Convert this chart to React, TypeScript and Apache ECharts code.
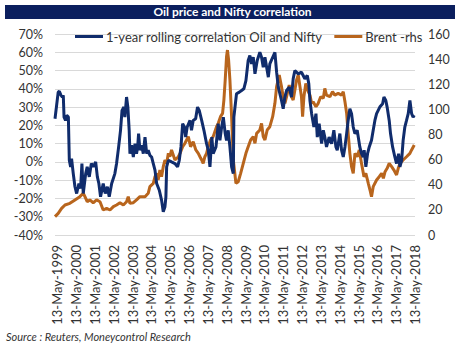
import React, { useEffect, useRef } from "react";
import * as echarts from "echarts";

// Decimal years (13-May-YYYY = YYYY + 0.36)
const corrYears = [
  1999.24, 1999.41, 1999.47, 1999.56, 1999.63, 1999.68, 1999.72, 1999.8, 1999.86, 1999.95,
  2000.0, 2000.07, 2000.12, 2000.21, 2000.3, 2000.39, 2000.51, 2000.6, 2000.67, 2000.74,
  2000.87, 2000.95, 2001.06, 2001.17, 2001.27, 2001.4, 2001.49, 2001.57, 2001.66, 2001.8,
  2001.91, 2002.02, 2002.12, 2002.25, 2002.42, 2002.51, 2002.62, 2002.72, 2002.8, 2002.9,
  2002.95, 2003.04, 2003.11, 2003.18, 2003.22, 2003.31, 2003.4, 2003.49, 2003.57, 2003.63,
  2003.68, 2003.75, 2003.84, 2003.93, 2004.02, 2004.11, 2004.19, 2004.28, 2004.37, 2004.46,
  2004.55, 2004.64, 2004.78, 2004.9, 2004.99, 2005.08, 2005.13, 2005.17, 2005.26, 2005.43,
  2005.61, 2005.75, 2005.84, 2005.93, 2006.02, 2006.11, 2006.18, 2006.26, 2006.41, 2006.49,
  2006.58, 2006.71, 2006.81, 2006.9, 2007.03, 2007.15, 2007.29, 2007.38, 2007.47, 2007.57,
  2007.64, 2007.79, 2007.91, 2008.0, 2008.09, 2008.18, 2008.28, 2008.35, 2008.44, 2008.53,
  2008.62, 2008.71, 2008.74, 2008.88, 2009.03, 2009.15, 2009.27, 2009.38, 2009.5, 2009.59,
  2009.68, 2009.77, 2009.86, 2009.98, 2010.12, 2010.21, 2010.3, 2010.39, 2010.57, 2010.65,
  2010.92, 2011.01, 2011.1, 2011.27, 2011.36, 2011.45, 2011.54, 2011.68, 2011.8, 2011.89,
  2011.98, 2012.16, 2012.33, 2012.51, 2012.64, 2012.72, 2012.78, 2012.87, 2012.99, 2013.1,
  2013.17, 2013.27, 2013.4, 2013.49, 2013.57, 2013.66, 2013.8, 2013.93, 2014.05, 2014.16,
  2014.23, 2014.37, 2014.46, 2014.55, 2014.64, 2014.73, 2014.81, 2014.9, 2014.99, 2015.08,
  2015.17, 2015.29, 2015.43, 2015.52, 2015.61, 2015.66, 2015.75, 2015.84, 2015.93, 2016.05,
  2016.14, 2016.23, 2016.32, 2016.49, 2016.64, 2016.71, 2016.81, 2016.88, 2016.99, 2017.06,
  2017.17, 2017.29, 2017.38, 2017.49, 2017.56, 2017.65, 2017.73, 2017.82, 2017.91, 2018.0,
  2018.09, 2018.18, 2018.26, 2018.32,
];
const corrValues = [
  23.6, 38.2, 38.7, 36.4, 35.5, 36.4, 24.5, 22.7, 25.5, 24.5,
  0.9, -2.7, 1.8, -6.4, -13.6, -17.3, -11.8, -14.5, -0.9, -17.3,
  -6.4, -2.7, -8.2, -0.9, -2.7, 0, -8.2, -11.8, -19.1, -11.8,
  -17.3, -13.6, -19.1, -11.8, -6.4, -0.9, 8.2, 17.3, 28.2, 30.0,
  24.5, 35.5, 30.0, 17.3, 4.5, 9.1, 2.7, 10, 4.5, 8.2,
  15.5, 6.4, 9.1, 4.5, 13.6, 4.5, 6.4, 3.6, 2.7, -0.9,
  -4.5, -11.8, -15.5, -20.9, -27.3, -24.5, -19.1, -2.7, 0.9, 0,
  -0.9, -2.7, 0.9, 8.2, 20.9, 19.1, 13.6, 19.1, 22.7, 17.3,
  22.7, 23.6, 30.0, 28.2, 22.7, 17.3, 10, 6.4, -2.7, 13.6,
  4.5, 8.2, 20.9, 11.8, 19.1, 24.5, 15.5, 11.8, 17.3, 8.2,
  -2.7, -6.4, 24.5, 37.3, 38.2, 39.1, 40, 44.5, 55.5, 58.2,
  53.6, 57.3, 48.2, 55.5, 60, 57.3, 51.8, 57.3, 46.4, 53.6,
  60, 49.1, 40.9, 33.6, 29.1, 35.5, 39.1, 40.9, 35.5, 45.5,
  50, 48.2, 49.1, 45.5, 47.3, 42.7, 33.6, 26.4, 19.1, 26.4,
  13.6, 20.9, 10, 17.3, 13.6, 8.2, 13.6, 10, 17.3, 8.2,
  6.4, 15.5, 6.4, 2.7, 8.2, 15.5, 22.7, 29.1, 26.4, 19.1,
  15.5, 17.3, 8.2, 4.5, 2.7, 6.4, -2.7, 4.5, 8.2, 11.8,
  17.3, 22.7, 26.4, 30, 31.8, 35.5, 33.6, 30, 22.7, 15.5,
  8.2, 2.7, -0.9, 4.5, -2.7, 0.9, 11.8, 19.1, 22.7, 26.4,
  33.6, 26.4, 24.5, 25.5,
];

const brentYears = [
  1999.24, 1999.41, 1999.59, 1999.77, 2000.03, 2000.3, 2000.56, 2000.74, 2000.83, 2000.95,
  2001.09, 2001.27, 2001.45, 2001.63, 2001.8, 2001.98, 2002.16, 2002.34, 2002.51, 2002.69,
  2002.87, 2003.04, 2003.13, 2003.22, 2003.4, 2003.57, 2003.75, 2004.02, 2004.19, 2004.28,
  2004.46, 2004.55, 2004.64, 2004.72, 2004.81, 2004.9, 2004.99, 2005.08, 2005.17, 2005.26,
  2005.34, 2005.43, 2005.61, 2005.79, 2005.88, 2006.02, 2006.14, 2006.32, 2006.44, 2006.58,
  2006.72, 2006.85, 2006.94, 2007.03, 2007.11, 2007.2, 2007.29, 2007.38, 2007.5, 2007.64,
  2007.82, 2007.91, 2008.03, 2008.14, 2008.21, 2008.28, 2008.35, 2008.4, 2008.46, 2008.53,
  2008.62, 2008.71, 2008.85, 2008.97, 2009.1, 2009.24, 2009.38, 2009.5, 2009.63, 2009.77,
  2009.86, 2009.95, 2010.12, 2010.21, 2010.3, 2010.39, 2010.51, 2010.65, 2010.8, 2010.92,
  2011.01, 2011.15, 2011.27, 2011.36, 2011.45, 2011.54, 2011.68, 2011.8, 2011.89, 2011.98,
  2012.07, 2012.16, 2012.25, 2012.33, 2012.39, 2012.46, 2012.56, 2012.69, 2012.78, 2012.87,
  2012.95, 2013.1, 2013.22, 2013.35, 2013.49, 2013.57, 2013.66, 2013.84, 2013.98, 2014.1,
  2014.28, 2014.46, 2014.55, 2014.64, 2014.73, 2014.81, 2014.9, 2014.99, 2015.08, 2015.17,
  2015.29, 2015.4, 2015.52, 2015.65, 2015.75, 2015.88, 2015.97, 2016.05, 2016.14, 2016.32,
  2016.46, 2016.59, 2016.68, 2016.77, 2016.88, 2016.99, 2017.12, 2017.24, 2017.38, 2017.47,
  2017.56, 2017.73, 2017.91, 2018.09, 2018.18, 2018.32,
];
const brentValues = [
  14.6, 17.2, 21.2, 23.9, 25.2, 27.9, 30.5, 33.2, 30.5, 26.5,
  27.9, 25.7, 27.9, 26.5, 19.9, 21.2, 19.9, 22.6, 23.9, 25.7,
  23.9, 26.5, 30.5, 25.2, 25.7, 27.9, 30.5, 30.5, 33.2, 38.5,
  41.1, 46.4, 49.1, 43.8, 51.7, 46.4, 54.4, 59.7, 57.0, 65.0,
  62.3, 67.7, 59.7, 62.3, 65.0, 70.3, 73.0, 78.3, 70.3, 74.3,
  67.7, 65.0, 62.3, 59.7, 57.0, 62.3, 65.0, 70.3, 75.6, 78.3,
  86.2, 88.9, 94.2, 96.8, 107.4, 123.4, 141.9, 147.2, 139.3, 123.4,
  94.2, 59.7, 41.1, 42.4, 49.1, 57.0, 65.0, 70.3, 75.6, 78.3,
  73.0, 80.9, 83.6, 88.9, 78.3, 75.6, 83.6, 86.2, 94.2, 104.8,
  118.1, 127.3, 118.1, 110.1, 104.8, 110.1, 119.4, 110.1, 107.4, 115.4,
  123.4, 127.3, 118.1, 110.1, 94.2, 110.1, 120.7, 114.1, 111.4, 104.8,
  106.1, 102.1, 104.8, 110.1, 108.8, 116.7, 111.4, 110.1, 114.1, 111.4,
  112.8, 111.4, 114.1, 106.1, 96.8, 80.9, 65.0, 54.4, 49.1, 65.0,
  62.3, 67.7, 57.0, 46.4, 49.1, 41.1, 35.8, 30.5, 38.5, 43.8,
  46.4, 49.1, 45.1, 50.4, 53.1, 57.0, 54.4, 51.7, 47.8, 53.1,
  57.0, 59.7, 62.3, 65.0, 67.7, 71.6,
];

const labelYears = [
  1999, 2000, 2001, 2002, 2003, 2004, 2005, 2006, 2007, 2008,
  2009, 2010, 2011, 2012, 2013, 2014, 2015, 2016, 2017, 2018,
];

const FONT = "Lato";

export default function App() {
  const ref = useRef<HTMLDivElement>(null);
  useEffect(() => {
    document.body.style.margin = "0";
    if (!ref.current) return;
    const chart = echarts.init(ref.current, null, { renderer: "svg" });
    const corrData = corrYears.map((y, i) => [y, corrValues[i]]);
    const brentData = brentYears.map((y, i) => [y, brentValues[i]]);
    chart.setOption({
      animation: false,
      backgroundColor: "#ffffff",
      title: {
        text: "Oil price and Nifty correlation",
        left: "center",
        top: 4,
        padding: 0,
        textStyle: { color: "#ffffff", fontSize: 12, fontWeight: "bold", fontFamily: FONT, lineHeight: 15 },
      },
      graphic: [
        { type: "rect", z: -10, shape: { x: 5, y: 5, width: 450, height: 14 }, style: { fill: "#0b1f5e" } },
        {
          type: "text",
          left: 6,
          top: 331,
          style: {
            text: "Source : Reuters, Moneycontrol Research",
            fill: "#333333",
            font: `italic 11px ${FONT}`,
          },
        },
      ],
      legend: {
        top: 25,
        left: 70,
        itemWidth: 28,
        itemHeight: 3,
        itemGap: 12,
        icon: "rect",
        textStyle: { fontSize: 13, color: "#333333", fontFamily: FONT, padding: [0, 0, 0, -2] },
        data: ["1-year rolling correlation Oil and Nifty", "Brent -rhs"],
      },
      grid: { left: 55, right: 50, top: 34, bottom: 114, containLabel: false },
      xAxis: {
        type: "value",
        min: 1999.24,
        max: 2018.36,
        axisLine: { show: false },
        axisTick: { show: false },
        splitLine: { show: false },
        axisLabel: {
          customValues: labelYears.map((y) => y + 0.36),
          rotate: 90,
          margin: 10,
          fontSize: 13,
          color: "#333333",
          fontFamily: FONT,
          formatter: (v: number) => "13-May-" + Math.round(v - 0.36),
        },
      },
      yAxis: [
        {
          type: "value",
          min: -40,
          max: 70,
          interval: 10,
          axisLine: { show: false },
          axisTick: { show: false },
          splitLine: { lineStyle: { color: "#d9d9d9", width: 1 } },
          axisLabel: { formatter: "{value}%", fontSize: 12.5, color: "#333333", fontFamily: FONT, margin: 12 },
        },
        {
          type: "value",
          min: 0,
          max: 160,
          interval: 20,
          axisLine: { show: false },
          axisTick: { show: false },
          splitLine: { show: false },
          axisLabel: { fontSize: 12.5, color: "#333333", fontFamily: FONT, margin: 13 },
        },
      ],
      series: [
        {
          name: "1-year rolling correlation Oil and Nifty",
          type: "line",
          yAxisIndex: 0,
          data: corrData,
          symbol: "none",
          color: "#102c6c",
          lineStyle: { width: 3, color: "#102c6c" },
          z: 3,
        },
        {
          name: "Brent -rhs",
          type: "line",
          yAxisIndex: 1,
          data: brentData,
          symbol: "none",
          color: "#b8651d",
          lineStyle: { width: 3, color: "#b8651d" },
          z: 2,
        },
      ],
    });
    return () => chart.dispose();
  }, []);
  return <div ref={ref} style={{ width: 465, height: 349 }} />;
}
